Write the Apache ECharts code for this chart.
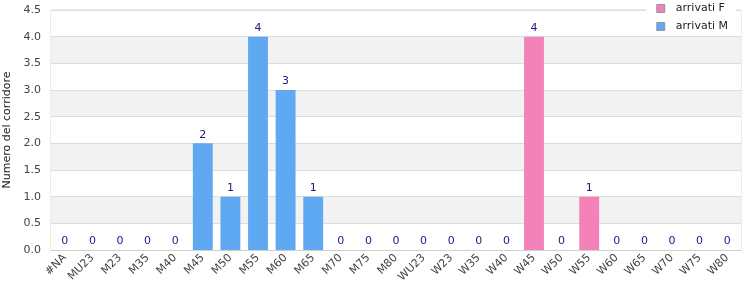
<!DOCTYPE html>
<html><head><meta charset="utf-8">
<script src="https://cdn.jsdelivr.net/npm/echarts@6/dist/echarts.min.js"></script>
<style>html,body{margin:0;padding:0;background:#fff}#c{width:750px;height:300px}</style>
</head><body><div id="c"></div>
<script>
const categories = ['#NA','MU23','M23','M35','M40','M45','M50','M55','M60','M65','M70','M75','M80','WU23','W23','W35','W40','W45','W50','W55','W60','W65','W70','W75','W80'];
const arrivatiM = [0,0,0,0,0,2,1,4,3,1,0,0,0,null,null,null,null,null,null,null,null,null,null,null,null];
const arrivatiF = [null,null,null,null,null,null,null,null,null,null,null,null,null,0,0,0,0,4,0,1,0,0,0,0,0];
const yTicks = {min:0, max:4.5, interval:0.5};
const font = 'DejaVu Sans';
const chart = echarts.init(document.getElementById('c'), null, {renderer:'canvas'});
const lbl = {show:true, position:'top', color:'#1a1a80', fontFamily:font, fontSize:11, distance:3};
chart.setOption({
  animation:false,
  textStyle:{fontFamily:font},
  grid:{left:51, right:9, top:10, bottom:50, show:true, borderColor:'#d9d9d9', borderWidth:1, containLabel:false, outerBoundsMode:'none'},
  legend:{
    orient:'vertical', right:14, top:1, itemWidth:8, itemHeight:8, itemGap:7,
    backgroundColor:'#fff', padding:[2,8,2,10],
    itemStyle:{borderColor:'#888', borderWidth:0.8},
    textStyle:{fontFamily:font, fontSize:11, color:'#222', padding:[0,0,0,6]},
    data:[{name:'arrivati F', icon:'rect'},{name:'arrivati M', icon:'rect'}]
  },
  xAxis:{
    type:'category', data:categories,
    axisLine:{lineStyle:{color:'#d0d0d0'}},
    axisTick:{show:false},
    axisLabel:{rotate:45, interval:0, color:'#444', fontSize:11, fontFamily:font, margin:6}
  },
  yAxis:{
    type:'value', min:yTicks.min, max:yTicks.max, interval:yTicks.interval,
    name:'Numero del corridore', nameLocation:'middle', nameGap:38, nameRotate:90,
    nameTextStyle:{color:'#222', fontSize:11, fontFamily:font},
    axisLabel:{color:'#444', fontSize:11, fontFamily:font, margin:10, formatter:v=>v.toFixed(1)},
    axisLine:{show:false}, axisTick:{show:false},
    splitLine:{lineStyle:{color:'#dcdcdc'}},
    splitArea:{show:true, areaStyle:{color:['#ffffff','#f2f2f2']}}
  },
  series:[
    {name:'arrivati F', type:'bar', data:arrivatiF, barWidth:'72%', barGap:'-100%',
     itemStyle:{color:'#f282b7'}, label:lbl},
    {name:'arrivati M', type:'bar', data:arrivatiM, barWidth:'72%', barGap:'-100%',
     itemStyle:{color:'#5fa8f2'}, label:lbl}
  ]
});
</script></body></html>
